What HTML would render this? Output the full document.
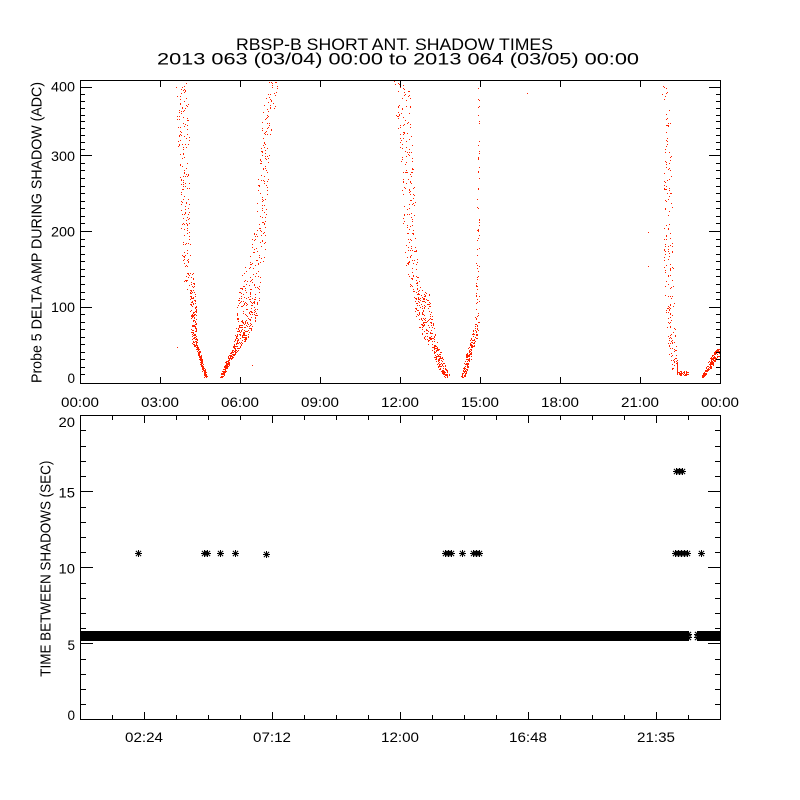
<!DOCTYPE html>
<html><head><meta charset="utf-8">
<style>
html,body{margin:0;padding:0;background:#fff;}
svg{display:block;}
text{font-family:"Liberation Sans",Arial,sans-serif;fill:#000;}
</style></head><body>
<svg id="c" width="800" height="800" viewBox="0 0 800 800" xmlns="http://www.w3.org/2000/svg">
<rect width="800" height="800" fill="#fff"/>
<path id="pts" d="" fill="#ff2200" shape-rendering="crispEdges"/>
<g stroke="#000" stroke-width="1" fill="none" shape-rendering="crispEdges">
 <rect x="80.5" y="80.5" width="640" height="303"/>
 <rect x="80.5" y="415.5" width="640" height="304"/>
 <path id="ticks" d=""/>
</g>
<g fill="#000" shape-rendering="crispEdges">
 <rect x="81" y="631" width="608" height="10"/>
 <rect x="697" y="631" width="23" height="10"/>
</g>
<path id="stars" d="" stroke="#000" stroke-width="1" fill="none"/>

<!-- titles -->
<text x="236" y="50" font-size="16.5" textLength="317" lengthAdjust="spacingAndGlyphs">RBSP-B SHORT ANT. SHADOW TIMES</text>
<text x="157" y="64.3" font-size="16.5" textLength="482" lengthAdjust="spacingAndGlyphs">2013 063 (03/04) 00:00 to 2013 064 (03/05) 00:00</text>

<!-- y axis titles -->
<text transform="translate(41.5,383) rotate(-90)" x="0" y="0" font-size="15" textLength="301" lengthAdjust="spacingAndGlyphs">Probe 5 DELTA AMP DURING SHADOW (ADC)</text>
<text transform="translate(50.5,676.7) rotate(-90)" x="0" y="0" font-size="15" textLength="216" lengthAdjust="spacingAndGlyphs">TIME BETWEEN SHADOWS (SEC)</text>

<!-- top y labels -->
<g font-size="13.5" text-anchor="end">
 <text x="75" y="91.7" textLength="24" lengthAdjust="spacingAndGlyphs">400</text>
 <text x="75" y="161" textLength="24" lengthAdjust="spacingAndGlyphs">300</text>
 <text x="75" y="236.5" textLength="24" lengthAdjust="spacingAndGlyphs">200</text>
 <text x="75" y="312" textLength="24" lengthAdjust="spacingAndGlyphs">100</text>
 <text x="75" y="383">0</text>
</g>
<!-- top x labels -->
<g font-size="13.5" text-anchor="middle">
 <text x="80" y="407" textLength="38" lengthAdjust="spacingAndGlyphs">00:00</text>
 <text x="160" y="407" textLength="38" lengthAdjust="spacingAndGlyphs">03:00</text>
 <text x="240" y="407" textLength="38" lengthAdjust="spacingAndGlyphs">06:00</text>
 <text x="320" y="407" textLength="38" lengthAdjust="spacingAndGlyphs">09:00</text>
 <text x="400" y="407" textLength="38" lengthAdjust="spacingAndGlyphs">12:00</text>
 <text x="480" y="407" textLength="38" lengthAdjust="spacingAndGlyphs">15:00</text>
 <text x="560" y="407" textLength="38" lengthAdjust="spacingAndGlyphs">18:00</text>
 <text x="640" y="407" textLength="38" lengthAdjust="spacingAndGlyphs">21:00</text>
 <text x="720" y="407" textLength="38" lengthAdjust="spacingAndGlyphs">00:00</text>
</g>
<!-- bottom y labels -->
<g font-size="13.5" text-anchor="end">
 <text x="75" y="427" textLength="16.5" lengthAdjust="spacingAndGlyphs">20</text>
 <text x="75" y="497.3" textLength="16.5" lengthAdjust="spacingAndGlyphs">15</text>
 <text x="75" y="573.3" textLength="16.5" lengthAdjust="spacingAndGlyphs">10</text>
 <text x="75" y="650">5</text>
 <text x="75" y="720">0</text>
</g>
<!-- bottom x labels -->
<g font-size="13.5" text-anchor="middle">
 <text x="144" y="742" textLength="38" lengthAdjust="spacingAndGlyphs">02:24</text>
 <text x="272" y="742" textLength="38" lengthAdjust="spacingAndGlyphs">07:12</text>
 <text x="400" y="742" textLength="38" lengthAdjust="spacingAndGlyphs">12:00</text>
 <text x="528" y="742" textLength="38" lengthAdjust="spacingAndGlyphs">16:48</text>
 <text x="656" y="742" textLength="38" lengthAdjust="spacingAndGlyphs">21:35</text>
</g>
</svg>
<script>
(function(){
var s=987654321;
function r(){s=(s*1664525+1013904223)>>>0;return s/4294967296;}
var d='';
function dot(x,y){x=Math.round(x);y=Math.round(y);if(x<81||x>719||y<81||y>382)return;d+='M'+x+' '+y+'h1v1h-1z';}
function curve(N){
 for(var i=0;i<N.length-1;i++){
  var a=N[i],b=N[i+1];
  var n=Math.round(Math.abs(b[0]-a[0])*(a[3]+b[3])/2);
  for(var k=0;k<n;k++){
   var t=r();
   var y=a[0]+(b[0]-a[0])*t;
   var lo=a[1]+(b[1]-a[1])*t, hi=a[2]+(b[2]-a[2])*t;
   dot(lo+(hi-lo)*r(), y);
  }
 }
}
curve([[80,175,188,0.9],[130,177,189,0.9],[180,180,189,0.9],[250,182,190,0.9],[280,183,194,1.2],[297,190,196,2.5],[343,191,197,3],[348,196,199,5],[377,204,207,5]]);
curve([[377,220,223,6],[360,226,231,6],[347,233,240,6],[335,235,250,5],[315,236,257,5],[295,238,260,3],[275,240,262,1.5],[255,250,265,1.0],[200,257,267,0.9],[140,260,270,0.9],[100,264,276,0.9],[81,268,279,0.9]]);
curve([[81,393,410,1.0],[130,397,412,1.0],[180,401,414,1.0],[260,405,417,1.0],[285,409,420,1.4],[290,413,428,3.5],[310,414,433,4],[325,417,434,3],[338,424,436,3],[350,431,440,4],[365,437,445,5],[377,444,450,5]]);
curve([[377,461,465,5],[355,466,472,4],[333,472,478,2.5],[322,475,479,0.6],[213,477,479,0.25],[81,478,480,0.1]]);
curve([[86,662,666,0.4],[110,663,670,0.3],[135,664,671,0.5],[230,663,672,0.6],[300,665,674,0.9],[330,667,676,1.1],[355,669,677,1.3],[370,672,678,1.5]]);
for(var k=0;k<50;k++)dot(677+r()*11,371+r()*4);
for(var y=362;y<=374;y++)dot(677,y);
curve([[377,701,704,5],[365,707,713,6],[355,712,720,7],[349,716,720,6]]);
[[177,347],[252,365],[527,93],[648,232],[648,266],[480,82],[663,86],[478,88]].forEach(function(p){dot(p[0],p[1]);});
document.getElementById('pts').setAttribute('d',d);

// ticks
var t='';
var M=[[0,381.5],[100,306.7],[200,231],[300,155.3],[400,87.3]];
function py(v){for(var i=0;i<M.length-1;i++){if(v<=M[i+1][0]){var a=M[i],b=M[i+1];return a[1]+(b[1]-a[1])*(v-a[0])/(b[0]-a[0]);}}return 87.3;}
for(var v=10;v<=400;v+=10){
 var Y=Math.round(py(v))+0.5, L=(v%100==0)?12:5;
 t+='M80 '+Y+'h'+L+'M721 '+Y+'h-'+L;
}
for(var k=1;k<=7;k++){var X=80+80*k+0.5;t+='M'+X+' 383v-6M'+X+' 81v6';}
for(var v=1;v<=19;v++){
 var Y=Math.round(719.3-15.2*v)+0.5, L=(v%5==0)?13:6;
 t+='M80 '+Y+'h'+L+'M721 '+Y+'h-'+L;
}
for(var k=1;k<=19;k++){
 var X=80+32*k+0.5, L=((k-2)%4==0)?7:4;
 t+='M'+X+' 719v-'+L+'M'+X+' 416v'+L;
}
document.getElementById('ticks').setAttribute('d',t);

// asterisks
var st='';
function star(x,y){var h=3.5,g=2.6;st+='M'+(x-h)+' '+y+'h'+(2*h)+'M'+x+' '+(y-h)+'v'+(2*h)+'M'+(x-g)+' '+(y-g)+'l'+(2*g)+' '+(2*g)+'M'+(x-g)+' '+(y+g)+'l'+(2*g)+' '+(-2*g);}
[138,204,207,220,235,445,448,451,462,473,476,479,675,678,681,684,687,701].forEach(function(x){star(x+0.5,553.5);});
star(266.5,554.5);
[676,679,682].forEach(function(x){star(x+0.5,471.5);});
var hatch=[[88,98],[172,182],[205,210],[216,222],[248,256],[368,378],[444,452],[458,466],[470,480],[525,532],[645,652],[684,689],[697,700]];
hatch.forEach(function(h){for(var x=h[0];x<=h[1];x+=2){star(x+0.5,634.5);star(x+0.5,637.5);}});
document.getElementById('stars').setAttribute('d',st);
})();
</script>
</body></html>
